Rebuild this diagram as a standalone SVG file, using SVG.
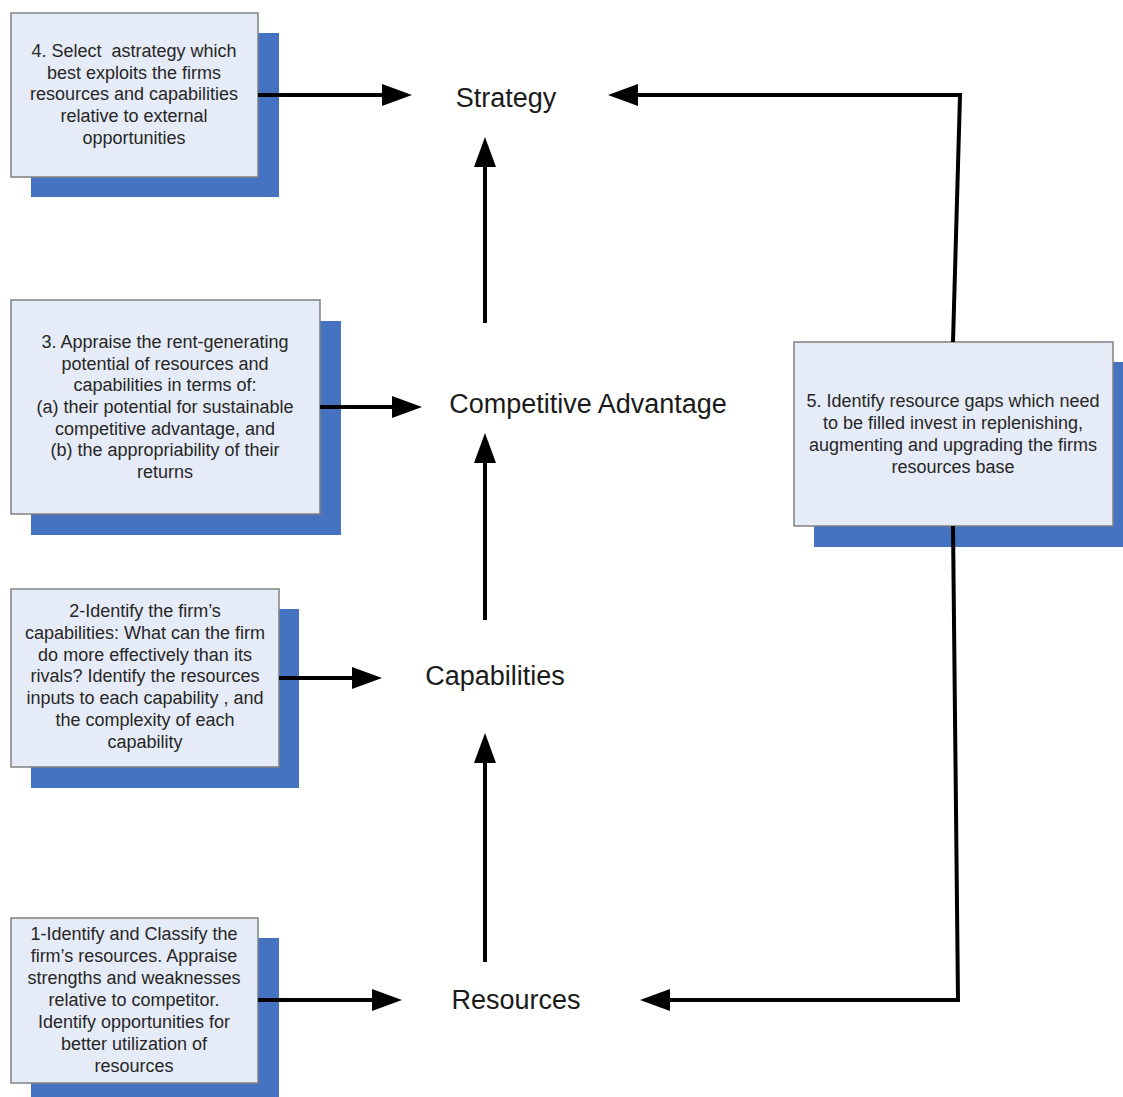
<svg xmlns="http://www.w3.org/2000/svg" width="1123" height="1097" viewBox="0 0 1123 1097">
<style>
.shadow{fill:#4673c1;}
.box{fill:#e6ecf7;stroke:#808080;stroke-width:1.5;}
.bt{font-family:"Liberation Sans",Arial,sans-serif;font-size:18px;fill:#262626;text-anchor:middle;white-space:pre;}
.lbl{font-family:"Liberation Sans",Arial,sans-serif;font-size:27px;fill:#1a1a1a;text-anchor:middle;}
.conn{fill:none;stroke:#000;stroke-width:4;stroke-linejoin:miter;marker-end:url(#ah);}
</style>
<defs>
<marker id="ah" viewBox="0 0 30 22" refX="20" refY="11" markerWidth="30" markerHeight="22" markerUnits="userSpaceOnUse" orient="auto">
<path d="M0,0 L30,11 L0,22 z" fill="#000"/>
</marker>
</defs>
<rect width="1123" height="1097" fill="#fff"/>

<g id="box4">
<rect class="shadow" x="31" y="33" width="248" height="164"/>
<rect class="box" x="11" y="13" width="247" height="164"/>
<text class="bt" x="134" y="57">4. Select  astrategy which</text>
<text class="bt" x="134" y="79">best exploits the firms</text>
<text class="bt" x="134" y="100">resources and capabilities</text>
<text class="bt" x="134" y="122">relative to external</text>
<text class="bt" x="134" y="144">opportunities</text>
</g>

<g id="box3">
<rect class="shadow" x="31" y="321" width="310" height="214"/>
<rect class="box" x="11" y="300" width="309" height="214"/>
<text class="bt" x="165" y="348">3. Appraise the rent-generating</text>
<text class="bt" x="165" y="370">potential of resources and</text>
<text class="bt" x="165" y="391">capabilities in terms of:</text>
<text class="bt" x="165" y="413">(a) their potential for sustainable</text>
<text class="bt" x="165" y="435">competitive advantage, and</text>
<text class="bt" x="165" y="456">(b) the appropriability of their</text>
<text class="bt" x="165" y="478">returns</text>
</g>

<g id="box2">
<rect class="shadow" x="31" y="609" width="268" height="179"/>
<rect class="box" x="11" y="589" width="268" height="178"/>
<text class="bt" x="145" y="617">2-Identify the firm’s</text>
<text class="bt" x="145" y="639">capabilities: What can the firm</text>
<text class="bt" x="145" y="661">do more effectively than its</text>
<text class="bt" x="145" y="682">rivals? Identify the resources</text>
<text class="bt" x="145" y="704">inputs to each capability , and</text>
<text class="bt" x="145" y="726">the complexity of each</text>
<text class="bt" x="145" y="748">capability</text>
</g>

<g id="box1">
<rect class="shadow" x="31" y="938" width="248" height="165"/>
<rect class="box" x="11" y="918" width="247" height="165"/>
<text class="bt" x="134" y="940">1-Identify and Classify the</text>
<text class="bt" x="134" y="962">firm’s resources. Appraise</text>
<text class="bt" x="134" y="984">strengths and weaknesses</text>
<text class="bt" x="134" y="1006">relative to competitor.</text>
<text class="bt" x="134" y="1028">Identify opportunities for</text>
<text class="bt" x="134" y="1050">better utilization of</text>
<text class="bt" x="134" y="1072">resources</text>
</g>

<g id="box5">
<rect class="shadow" x="814" y="362" width="320" height="185"/>
<rect class="box" x="794" y="342" width="319" height="184"/>
<text class="bt" x="953" y="407">5. Identify resource gaps which need</text>
<text class="bt" x="953" y="429">to be filled invest in replenishing,</text>
<text class="bt" x="953" y="451">augmenting and upgrading the firms</text>
<text class="bt" x="953" y="473">resources base</text>
</g>

<g id="strategy"><text class="lbl" x="506" y="107">Strategy</text></g>
<g id="competitive-advantage"><text class="lbl" x="588" y="413">Competitive Advantage</text></g>
<g id="capabilities"><text class="lbl" x="495" y="685">Capabilities</text></g>
<g id="resources"><text class="lbl" x="516" y="1009">Resources</text></g>

<g id="connectors">
<path class="conn" d="M258,95 H402"/>
<path class="conn" d="M320,407 H412"/>
<path class="conn" d="M279,678 H372"/>
<path class="conn" d="M258,1000 H392"/>
<path class="conn" d="M485,962 V743"/>
<path class="conn" d="M485,620 V443"/>
<path class="conn" d="M485,323 V147"/>
<path class="conn" d="M953,342 L960,95 H618"/>
<path class="conn" d="M953,526 L958,1000 H650"/>
</g>
</svg>
